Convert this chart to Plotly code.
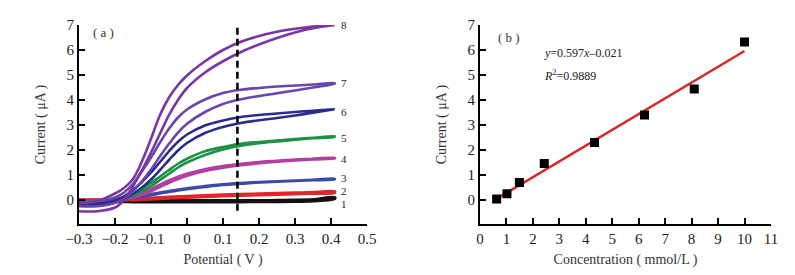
import plotly.graph_objects as go

# ---------------- data: panel (a) ----------------
POT = [-0.3, -0.25, -0.2, -0.175, -0.15, -0.125, -0.1, -0.075, -0.05, -0.025,
       0.0, 0.05, 0.1, 0.15, 0.2, 0.25, 0.3, 0.35, 0.41]

c1_up = [-0.02, -0.02, -0.02, -0.02, -0.03, -0.03, -0.03, -0.03, -0.03, -0.03, -0.03, -0.03, -0.03, -0.03, -0.03, -0.02, -0.01, 0.01, 0.10]
c1_lo = [-0.06, -0.06, -0.06, -0.06, -0.07, -0.07, -0.07, -0.07, -0.07, -0.07, -0.07, -0.07, -0.07, -0.07, -0.06, -0.06, -0.05, -0.03, 0.06]
c2_up = [0.0, 0.0, 0.01, 0.02, 0.03, 0.05, 0.07, 0.09, 0.11, 0.13, 0.14, 0.17, 0.20, 0.22, 0.24, 0.26, 0.28, 0.30, 0.33]
c2_lo = [-0.02, -0.02, -0.01, 0.0, 0.01, 0.02, 0.04, 0.06, 0.08, 0.10, 0.11, 0.14, 0.17, 0.19, 0.21, 0.23, 0.25, 0.27, 0.30]
c3_up = [-0.03, -0.03, 0.0, 0.04, 0.09, 0.16, 0.23, 0.30, 0.36, 0.42, 0.47, 0.56, 0.63, 0.68, 0.72, 0.75, 0.78, 0.81, 0.85]
c3_lo = [-0.05, -0.05, -0.02, 0.02, 0.06, 0.12, 0.19, 0.26, 0.32, 0.38, 0.43, 0.52, 0.60, 0.65, 0.70, 0.73, 0.76, 0.79, 0.83]
c4_up = [-0.05, -0.05, 0.0, 0.06, 0.14, 0.26, 0.42, 0.60, 0.77, 0.92, 1.04, 1.22, 1.35, 1.44, 1.51, 1.56, 1.61, 1.64, 1.68]
c4_lo = [-0.08, -0.08, -0.02, 0.03, 0.10, 0.21, 0.36, 0.53, 0.70, 0.85, 0.98, 1.17, 1.30, 1.40, 1.48, 1.54, 1.59, 1.63, 1.67]
c5_up = [-0.05, -0.05, 0.0, 0.10, 0.25, 0.45, 0.68, 0.94, 1.20, 1.45, 1.65, 1.95, 2.12, 2.25, 2.32, 2.38, 2.44, 2.49, 2.55]
c5_lo = [-0.10, -0.10, -0.03, 0.05, 0.18, 0.35, 0.55, 0.80, 1.05, 1.30, 1.50, 1.80, 2.02, 2.17, 2.27, 2.34, 2.41, 2.47, 2.53]
c6_up = [-0.10, -0.08, 0.0, 0.15, 0.40, 0.72, 1.10, 1.52, 1.95, 2.33, 2.62, 2.98, 3.18, 3.32, 3.40, 3.46, 3.52, 3.57, 3.63]
c6_lo = [-0.20, -0.18, -0.08, 0.04, 0.24, 0.50, 0.82, 1.20, 1.60, 1.98, 2.28, 2.68, 2.92, 3.08, 3.19, 3.28, 3.38, 3.49, 3.63]
c7_up = [-0.10, -0.05, 0.10, 0.30, 0.65, 1.15, 1.70, 2.30, 2.85, 3.30, 3.62, 4.02, 4.28, 4.41, 4.48, 4.54, 4.58, 4.62, 4.67]
c7_lo = [-0.25, -0.25, -0.12, 0.05, 0.35, 0.75, 1.22, 1.75, 2.25, 2.70, 3.05, 3.52, 3.84, 4.03, 4.16, 4.27, 4.38, 4.50, 4.65]
c8_up = [-0.15, -0.05, 0.26, 0.48, 0.84, 1.55, 2.45, 3.40, 4.10, 4.60, 4.98, 5.55, 6.00, 6.33, 6.56, 6.73, 6.85, 6.94, 7.00]
c8_lo = [-0.45, -0.45, -0.30, 0.0, 0.55, 1.20, 1.90, 2.65, 3.40, 4.00, 4.48, 5.10, 5.55, 5.92, 6.22, 6.48, 6.70, 6.87, 7.00]

CURVE_NAMES = ["1", "2", "3", "4", "5", "6", "7", "8"]
CURVE_UP = [c1_up, c2_up, c3_up, c4_up, c5_up, c6_up, c7_up, c8_up]
CURVE_LO = [c1_lo, c2_lo, c3_lo, c4_lo, c5_lo, c6_lo, c7_lo, c8_lo]
LABEL_Y = [-0.14, 0.38, 0.9, 1.63, 2.5, 3.53, 4.67, 7.0]
DASH_X = 0.14
DASH_Y = [-0.43, 7.1]

X_TICKS_A = [-0.3, -0.2, -0.1, 0, 0.1, 0.2, 0.3, 0.4, 0.5]
X_TICKTEXT_A = ["\u22120.3", "\u22120.2", "\u22120.1", "0", "0.1", "0.2", "0.3", "0.4", "0.5"]
Y_TICKS = [0, 1, 2, 3, 4, 5, 6, 7]

# ---------------- data: panel (b) ----------------
conc = [0.63, 1.02, 1.49, 2.43, 4.33, 6.22, 8.1, 10.0]
current = [0.04, 0.25, 0.70, 1.46, 2.30, 3.40, 4.44, 6.32]
FIT_X = [0.64, 10.0]          # drawn fit-line end points
FIT_Y = [0.06, 5.96]
X_TICKS_B = [0, 1, 2, 3, 4, 5, 6, 7, 8, 9, 10, 11]

COLORS = ["#111111", "#e0262a", "#3a4aa6", "#b23ea2", "#1c9148", "#2c2c8c", "#6a45aa", "#7a36a2"]
WIDTHS = [3.4, 3.4, 2.6, 3.2, 2.6, 2.6, 2.6, 2.6]

FONT = "Liberation Serif"

fig = go.Figure()

for name, up, lo, col, w in zip(CURVE_NAMES, CURVE_UP, CURVE_LO, COLORS, WIDTHS):
    xs = POT + POT[::-1]
    ys = lo + up[::-1]
    fig.add_trace(go.Scatter(x=xs, y=ys, mode="lines", name=name,
                             line=dict(color=col, width=w, shape="spline", smoothing=1.0),
                             xaxis="x", yaxis="y", showlegend=False, hoverinfo="skip"))

fig.add_trace(go.Scatter(x=[DASH_X, DASH_X], y=DASH_Y, mode="lines",
                         line=dict(color="black", width=2.6, dash="7px,4px"),
                         xaxis="x", yaxis="y", showlegend=False))

for name, ly in zip(CURVE_NAMES, LABEL_Y):
    fig.add_annotation(x=0.422, y=ly, xref="x", yref="y", text=name, showarrow=False,
                       xanchor="left", yanchor="middle", font=dict(family=FONT, size=11, color="#222"))

fig.add_annotation(x=-0.268, y=6.7, xref="x", yref="y", text="( a )", showarrow=False,
                   xanchor="left", yanchor="middle", font=dict(family=FONT, size=13, color="#333"))

# panel b
fig.add_trace(go.Scatter(x=FIT_X, y=FIT_Y, mode="lines", line=dict(color="#d8282a", width=2.6),
                         xaxis="x2", yaxis="y2", showlegend=False))
fig.add_trace(go.Scatter(x=conc, y=current, mode="markers",
                         marker=dict(symbol="square", size=9, color="black"),
                         xaxis="x2", yaxis="y2", showlegend=False))

fig.add_annotation(x=0.6, y=6.5, xref="x2", yref="y2", text="( b )", showarrow=False,
                   xanchor="left", yanchor="middle", font=dict(family=FONT, size=13, color="#333"))
fig.add_annotation(x=2.35, y=5.88, xref="x2", yref="y2",
                   text="<i>y</i>=0.597<i>x</i>\u20130.021", showarrow=False,
                   xanchor="left", yanchor="middle", font=dict(family=FONT, size=12, color="#222"))
fig.add_annotation(x=2.35, y=4.96, xref="x2", yref="y2",
                   text="<i>R</i><sup>2</sup>=0.9889", showarrow=False,
                   xanchor="left", yanchor="middle", font=dict(family=FONT, size=12, color="#222"))

axis_common = dict(showline=True, linewidth=2, linecolor="black", ticks="inside", ticklen=6,
                   tickwidth=2, tickcolor="black", showgrid=False, zeroline=False,
                   tickfont=dict(family=FONT, size=15, color="#222"), automargin=False)

Y_DOMAIN = [0.2145, 0.9382]

fig.update_layout(
    width=795, height=275, margin=dict(l=0, r=0, t=0, b=0),
    paper_bgcolor="white", plot_bgcolor="white",
    xaxis=dict(domain=[0.0893, 0.4516], range=[-0.3, 0.5], tickvals=X_TICKS_A, ticktext=X_TICKTEXT_A,
               anchor="y",
               title=dict(text="Potential ( V )", font=dict(family=FONT, size=14, color="#333"), standoff=8),
               **axis_common),
    yaxis=dict(domain=Y_DOMAIN, range=[-0.96, 7], tickvals=Y_TICKS, anchor="x",
               title=dict(text="Current ( \u03bcA )", font=dict(family=FONT, size=14, color="#333"), standoff=18),
               **axis_common),
    xaxis2=dict(domain=[0.5937, 0.9597], range=[0, 11], tickvals=X_TICKS_B, anchor="y2",
                title=dict(text="Concentration ( mmol/L )", font=dict(family=FONT, size=14, color="#333"), standoff=8),
                **axis_common),
    yaxis2=dict(domain=Y_DOMAIN, range=[-0.96, 7], tickvals=Y_TICKS, anchor="x2",
                title=dict(text="Current ( \u03bcA )", font=dict(family=FONT, size=14, color="#333"), standoff=18),
                **axis_common),
)

fig.write_html("out.html")
